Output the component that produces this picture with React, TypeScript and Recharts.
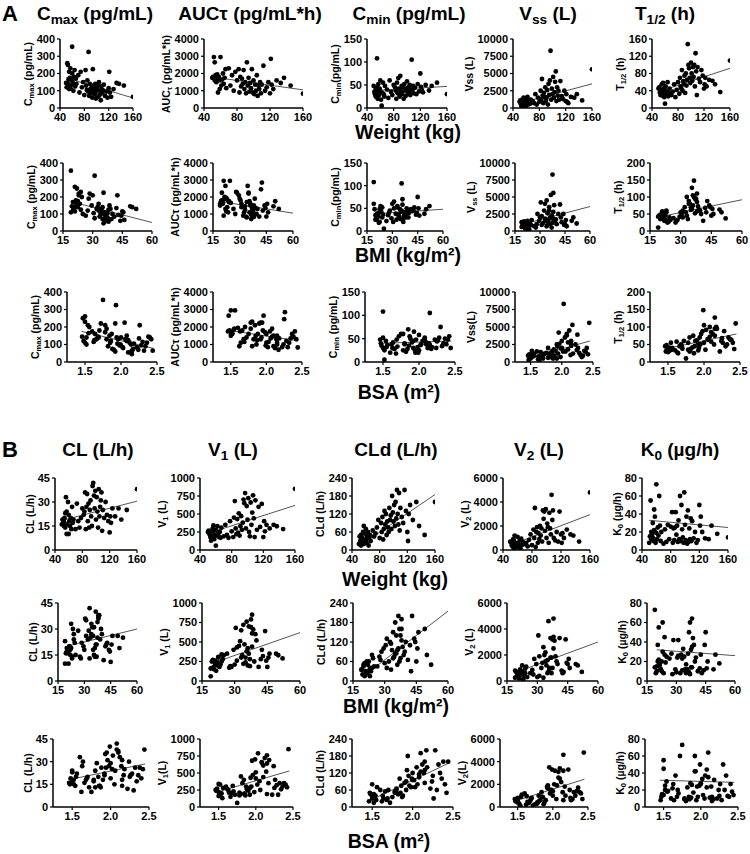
import React from 'react';
import { ScatterChart, Scatter, XAxis, YAxis, ReferenceLine } from 'recharts';

// covariates, one value per patient
const weightKg = [50, 51, 52, 53, 53, 54, 55, 55, 56, 57, 57, 58, 59, 60, 60, 61, 62, 63, 64, 65, 66, 67,
  70, 72, 74, 76, 78, 80, 82, 83, 84, 85, 86, 87, 88, 89, 90, 91, 92, 93, 94, 95, 96, 97, 98, 99, 100,
  101, 102, 103, 104, 105, 106, 107, 108, 109, 110, 112, 114, 116, 118, 120, 121, 122, 124,
  128, 133, 137, 145, 160];
const bmi = [19.5, 20, 21, 20.5, 22, 21.5, 19, 23, 22.5, 21, 24, 20.5, 23.5, 19, 24.5, 22, 25, 21.5, 23, 24, 20, 22.5,
  28, 26.5, 30, 27.5, 29.5, 31, 28.5, 32, 30.5, 33, 34, 31, 35, 32.5, 36, 33.5, 34.5, 37, 35.5, 36.5, 33, 37.5, 35, 38, 36,
  34, 39, 37, 38.5, 36.5, 40, 35.5, 38, 41, 37.5, 42, 39.5, 43, 44, 45, 42.5, 44.5, 46,
  45.5, 49, 50, 52, 38];
const bsa = [1.46, 1.48, 1.5, 1.52, 1.47, 1.55, 1.5, 1.54, 1.6, 1.62, 1.5, 1.66, 1.64, 1.75, 1.56, 1.68, 1.52, 1.7, 1.72, 1.63, 1.78, 1.69,
  1.8, 1.82, 1.78, 1.86, 1.84, 1.88, 1.92, 1.8, 1.95, 1.87, 1.98, 1.93, 1.9, 2.0, 1.85, 2.02, 1.96, 1.92, 2.05, 1.99, 2.08, 2.03, 1.94, 2.1, 2.0,
  2.12, 2.06, 2.15, 2.08, 2.17, 2.14, 2.15, 2.1, 2.22, 2.18, 2.25, 2.24, 2.28, 2.15, 2.3, 2.26, 2.34, 2.32,
  2.36, 2.38, 2.4, 2.42, 2.44];

// PK parameters (A)
const cmax = [145, 120, 260, 140, 250, 165, 110, 210, 175, 115, 230, 130, 160, 355, 200, 145, 100, 180, 220, 125, 170, 140,
  190, 90, 210, 120, 150, 75, 220, 130, 105, 160, 95, 325, 70, 140, 110, 85, 130, 60, 225, 100, 120, 80, 140, 55, 95,
  110, 130, 65, 150, 75, 100, 45, 125, 85, 105, 135, 70, 95, 60, 115, 210, 90, 65,
  110, 145, 140, 130, 65];
const aucTau = [1750, 1800, 2950, 1600, 2650, 1900, 1500, 1850, 1950, 900, 1700, 1800, 1100, 1600, 2950, 1300, 1650, 2000, 1400, 1750, 2250, 1150,
  2300, 1300, 1900, 1000, 2100, 1600, 2250, 900, 1800, 1250, 1700, 1400, 2200, 1100, 1500, 850, 2650, 1300, 1750, 950, 1450, 1150, 2250, 900, 1600,
  800, 1350, 1000, 1900, 700, 1300, 1100, 1500, 850, 1350, 2450, 1000, 1200, 1500, 850, 2850, 1350, 1100,
  1600, 1450, 1750, 1300, 830];
const cmin = [48, 35, 30, 25, 40, 32, 108, 45, 20, 38, 52, 28, 42, 60, 36, 18, 5, 33, 55, 30, 25, 48,
  40, 22, 60, 35, 28, 50, 45, 38, 20, 55, 32, 65, 42, 25, 70, 36, 48, 30, 45, 20, 52, 38, 26, 42, 58,
  30, 45, 35, 50, 28, 40, 105, 38, 48, 32, 44, 30, 52, 36, 75, 46, 40, 34,
  50, 38, 48, 55, 30];
const vss = [900, 1100, 500, 700, 300, 1200, 600, 800, 1500, 400, 1000, 1400, 250, 1300, 900, 700, 1600, 500, 1100, 800, 600, 1200,
  1000, 700, 2000, 500, 1500, 900, 2500, 1200, 4200, 1800, 700, 2200, 1600, 3000, 1000, 1500, 2600, 500, 3500, 1900, 4000, 8300, 1200, 2800, 2000,
  4500, 1500, 2300, 3800, 5300, 1000, 3000, 1800, 2500, 1200, 3900, 1700, 1300, 2500, 1000, 2000, 900, 700,
  1600, 1500, 2000, 1100, 5600];
const tHalf = [45, 48, 36, 40, 30, 35, 42, 55, 33, 58, 28, 45, 25, 10, 40, 50, 32, 38, 60, 27, 35, 45,
  30, 38, 55, 25, 42, 60, 33, 70, 50, 45, 88, 40, 62, 55, 75, 35, 80, 52, 65, 148, 100, 92, 70, 58, 105,
  80, 63, 95, 72, 100, 50, 127, 85, 30, 95, 68, 60, 88, 75, 45, 55, 70, 50,
  65, 63, 55, 37, 110];

// model parameters (B)
const cl = [16, 19, 17, 18, 15, 20, 23, 14, 33, 10, 24, 16, 30, 10, 22, 18, 15, 20, 13, 27, 17, 19,
  13, 29, 18, 14, 20, 26, 22, 24, 36, 13, 27, 35, 18, 29, 14, 25, 31, 21, 15, 40, 42, 34, 26, 37, 19,
  33, 24, 14, 38, 21, 27, 31, 36, 12, 25, 20, 30, 22, 18, 11, 21, 17, 26,
  21, 26, 19, 25, 38];
const v1 = [250, 270, 220, 180, 240, 130, 160, 200, 300, 260, 340, 150, 210, 60, 280, 200, 330, 230, 180, 250, 170, 310,
  190, 350, 210, 170, 400, 260, 180, 450, 680, 300, 220, 430, 240, 510, 200, 330, 470, 280, 380, 700, 650, 790, 300, 610, 420,
  720, 250, 190, 660, 350, 520, 760, 440, 180, 690, 280, 600, 320, 640, 180, 400, 260, 350,
  300, 350, 330, 290, 850];
const cld = [20, 45, 30, 15, 50, 25, 35, 40, 60, 20, 80, 55, 30, 35, 70, 25, 45, 60, 15, 40, 50, 30,
  65, 45, 55, 75, 100, 40, 90, 60, 110, 35, 70, 130, 85, 120, 50, 95, 75, 60, 140, 100, 115, 70, 180, 125, 95,
  150, 80, 160, 105, 200, 120, 85, 190, 65, 140, 110, 90, 200, 130, 60, 30, 120, 150,
  100, 160, 80, 50, 160];
const v2 = [700, 650, 400, 300, 500, 900, 800, 100, 1200, 200, 600, 350, 450, 250, 1100, 550, 300, 800, 150, 950, 400, 700,
  500, 600, 300, 850, 1300, 400, 1700, 1000, 3500, 250, 1500, 1900, 600, 1400, 900, 2000, 1200, 1800, 700, 3300, 2600, 3200, 1600, 3400, 1000,
  2200, 1900, 600, 3100, 1800, 1300, 4600, 2500, 3300, 1000, 800, 1500, 700, 3200, 1300, 600, 1400, 1000,
  1700, 1300, 1200, 700, 4800];
const k0 = [8, 15, 55, 20, 12, 18, 14, 30, 10, 22, 45, 37, 8, 73, 19, 12, 25, 16, 60, 27, 10, 20,
  7, 23, 9, 28, 12, 26, 42, 8, 24, 11, 25, 42, 17, 27, 9, 33, 12, 60, 10, 50, 23, 14, 8, 64, 28,
  11, 37, 7, 44, 9, 24, 12, 35, 10, 32, 13, 20, 8, 11, 50, 27, 37, 20,
  13, 12, 27, 18, 14];

// axis ticks
const weightTicks = [40, 80, 120, 160];
const bmiTicks = [15, 30, 45, 60];
const bsaTicks = [1.5, 2.0, 2.5];
const cmaxTicks = [0, 100, 200, 300, 400];
const aucTicks = [0, 1000, 2000, 3000, 4000];
const cminTicks = [0, 50, 100, 150];
const vssTicks = [0, 2500, 5000, 7500, 10000];
const tHalfTicksW = [0, 40, 80, 120, 160];
const tHalfTicks = [0, 50, 100, 150, 200];
const clTicks = [0, 15, 30, 45];
const v1Ticks = [0, 250, 500, 750, 1000];
const cldTicks = [0, 60, 120, 180, 240];
const v2Ticks = [0, 2000, 4000, 6000];
const k0Ticks = [0, 20, 40, 60, 80];

// linear regression lines: x span per covariate, y at both ends (weight, bmi, bsa)
const fitWeightX = [50, 160];
const fitBmiX = [20, 60];
const fitBsaX = [1.45, 2.45];
const fitCmax = [[175, 58], [170, 50], [175, 78]];
const fitAuc = [[1800, 1050], [1720, 1050], [1820, 1210]];
const fitCmin = [[38, 47], [38, 48], [40, 45]];
const fitVss = [[700, 3500], [1000, 3600], [500, 3000]];
const fitTHalf = [[38, 92], [42, 92], [37, 80]];
const fitCl = [[18.5, 30.5], [20, 30], [18, 28.5]];
const fitV1 = [[230, 620], [230, 620], [210, 530]];
const fitCld = [[12, 185], [15, 215], [20, 155]];
const fitV2 = [[400, 2950], [700, 3000], [500, 2450]];
const fitK0 = [[33, 25], [32, 26], [31.5, 29]];

const FONT = '"Liberation Sans", Arial, sans-serif';

// odd entries are subscripts
const Rich = ({ parts }: { parts: string[] }) => (
  <>
    {parts.map((p, i) =>
      i % 2 === 1 ? (
        <span key={i} style={{ fontSize: '72%', position: 'relative', top: '0.32em' }}>{p}</span>
      ) : (
        <span key={i}>{p}</span>
      )
    )}
  </>
);

const dot = (p: any) => <circle cx={p.cx} cy={p.cy} r={2.4} fill="#000" />;

const covariates = [
  { xs: weightKg, domain: [40, 160], ticks: weightTicks, fitX: fitWeightX, fmt: (v: number) => String(v) },
  { xs: bmi, domain: [15, 60], ticks: bmiTicks, fitX: fitBmiX, fmt: (v: number) => String(v) },
  { xs: bsa, domain: [1.25, 2.5], ticks: bsaTicks, fitX: fitBsaX, fmt: (v: number) => v.toFixed(1) },
];

const paramsA = [
  { ys: cmax, ticks: [cmaxTicks, cmaxTicks, cmaxTicks], fit: fitCmax,
    labels: [['C', 'max', ' (pg/mL)'], ['C', 'max', ' (pg/mL)'], ['C', 'max', ' (pg/mL)']] },
  { ys: aucTau, ticks: [aucTicks, aucTicks, aucTicks], fit: fitAuc,
    labels: [['AUC', 'τ', ' (pg/mL*h)'], ['AUCτ (pg/mL*h)'], ['AUCτ (pg/mL*h)']] },
  { ys: cmin, ticks: [cminTicks, cminTicks, cminTicks], fit: fitCmin,
    labels: [['C', 'min', '(pg/mL)'], ['C', 'min', '(pg/mL)'], ['C', 'min', ' (pg/mL)']] },
  { ys: vss, ticks: [vssTicks, vssTicks, vssTicks], fit: fitVss,
    labels: [['Vss (L)'], ['V', 'ss', ' (L)'], ['Vss(L)']] },
  { ys: tHalf, ticks: [tHalfTicksW, tHalfTicks, tHalfTicks], fit: fitTHalf,
    labels: [['T', '1/2', ' (h)'], ['T', '1/2', ' (h)'], ['T', '1/2', ' (h)']] },
];
const paramsB = [
  { ys: cl, ticks: [clTicks, clTicks, clTicks], fit: fitCl,
    labels: [['CL (L/h)'], ['CL (L/h)'], ['CL (L/h)']] },
  { ys: v1, ticks: [v1Ticks, v1Ticks, v1Ticks], fit: fitV1,
    labels: [['V', '1', ' (L)'], ['V', '1', ' (L)'], ['V', '1', '(L)']] },
  { ys: cld, ticks: [cldTicks, cldTicks, cldTicks], fit: fitCld,
    labels: [['CLd (L/h)'], ['CLd (L/h)'], ['CLd (L/h)']] },
  { ys: v2, ticks: [v2Ticks, v2Ticks, v2Ticks], fit: fitV2,
    labels: [['V', '2', ' (L)'], ['V', '2', ' (L)'], ['V', '2', '(L)']] },
  { ys: k0, ticks: [k0Ticks, k0Ticks, k0Ticks], fit: fitK0,
    labels: [['K', '0', ' (µg/h)'], ['K', '0', ' (µg/h)'], ['K', '0', ' (µg/h)']] },
];

const titlesA = [['C', 'max', ' (pg/mL)'], ['AUCτ (pg/mL*h)'], ['C', 'min', ' (pg/mL)'], ['V', 'ss', ' (L)'], ['T', '1/2', ' (h)']];
const titlesB = [['CL (L/h)'], ['V', '1', ' (L)'], ['CLd (L/h)'], ['V', '2', ' (L)'], ['K', '0', ' (µg/h)']];
const captions = ['Weight (kg)', 'BMI (kg/m²)', 'BSA (m²)'];

// layout: plot rectangles per row [left,right] and [top,bottom]
const layoutA = {
  rows: [[39, 108], [163, 231], [292, 362]],
  cols: [
    [[60, 133], [204, 303], [367, 447], [513, 592], [652, 730]],
    [[63, 152], [213, 293], [367, 443], [515, 590], [650, 742]],
    [[67, 157], [213, 302], [365, 455], [515, 593], [650, 740]],
  ],
  titleY: 13, titleX: [95, 250, 409, 548, 665],
  caption: [[408, 133], [408, 256], [399, 393]],
};
const layoutB = {
  rows: [[478, 550], [603, 681], [739, 807]],
  cols: [
    [[55, 137], [200, 295], [352, 435], [503, 590], [642, 728]],
    [[58, 137], [202, 300], [353, 448], [507, 598], [647, 735]],
    [[53, 149], [200, 293], [352, 453], [500, 588], [645, 738]],
  ],
  titleY: 449, titleX: [98, 233, 396, 539, 680],
  caption: [[395, 580], [396, 707], [389, 842]],
};

const tickStyle = { fill: '#000', fontSize: 11, fontWeight: 700, fontFamily: FONT };

function Plot({ x0, x1, top, bottom, cov, ys, yTicks, fitY, label }: any) {
  const axisW = 40;
  const mT = 7;
  const mR = 14;
  const xH = 22;
  const w = x1 - x0;
  const h = bottom - top;
  const data = cov.xs.map((x: number, i: number) => ({ x, y: ys[i] }));
  const yMax = yTicks[yTicks.length - 1];
  const labelX = x0 - String(yMax).length * 6.2 - 13;
  return (
    <>
      <div style={{ position: 'absolute', left: x0 - axisW, top: top - mT }}>
        <ScatterChart width={axisW + w + mR} height={mT + h + xH} margin={{ top: mT, right: mR, bottom: 0, left: 0 }}>
          <XAxis
            type="number"
            dataKey="x"
            domain={cov.domain}
            ticks={cov.ticks}
            interval={0}
            tickFormatter={cov.fmt}
            height={xH}
            tickSize={3}
            allowDataOverflow
            axisLine={{ stroke: '#000', strokeWidth: 1.5 }}
            tickLine={{ stroke: '#000', strokeWidth: 1.2 }}
            tick={tickStyle}
          />
          <YAxis
            type="number"
            dataKey="y"
            domain={[0, yMax]}
            ticks={yTicks}
            interval={0}
            width={axisW}
            tickSize={3}
            allowDataOverflow
            axisLine={{ stroke: '#000', strokeWidth: 1.5 }}
            tickLine={{ stroke: '#000', strokeWidth: 1.2 }}
            tick={tickStyle}
          />
          <ReferenceLine
            segment={[{ x: cov.fitX[0], y: fitY[0] }, { x: cov.fitX[1], y: fitY[1] }]}
            stroke="#555"
            strokeWidth={1}
          />
          <Scatter data={data} shape={dot} isAnimationActive={false} />
        </ScatterChart>
      </div>
      <div
        style={{
          position: 'absolute',
          left: labelX,
          top: (top + bottom) / 2,
          transform: 'translate(-50%, -50%) rotate(-90deg)',
          whiteSpace: 'nowrap',
          fontSize: 10.5,
          fontWeight: 700,
          lineHeight: 1,
        }}
      >
        <Rich parts={label} />
      </div>
    </>
  );
}

function Panel({ letter, letterY, params, titles, layout }: any) {
  return (
    <>
      <div style={{ position: 'absolute', left: 2, top: letterY - 12, fontSize: 22, fontWeight: 700 }}>{letter}</div>
      {titles.map((t: string[], i: number) => (
        <div
          key={'t' + i}
          style={{
            position: 'absolute',
            left: layout.titleX[i],
            top: layout.titleY,
            transform: 'translate(-50%, -50%)',
            whiteSpace: 'nowrap',
            fontSize: 19,
            fontWeight: 700,
            lineHeight: 1,
          }}
        >
          <Rich parts={t} />
        </div>
      ))}
      {covariates.map((cov, r) => (
        <React.Fragment key={'r' + r}>
          {params.map((p: any, c: number) => (
            <Plot
              key={c}
              x0={layout.cols[r][c][0]}
              x1={layout.cols[r][c][1]}
              top={layout.rows[r][0]}
              bottom={layout.rows[r][1]}
              cov={cov}
              ys={p.ys}
              yTicks={p.ticks[r]}
              fitY={p.fit[r]}
              label={p.labels[r]}
            />
          ))}
          <div
            style={{
              position: 'absolute',
              left: layout.caption[r][0],
              top: layout.caption[r][1],
              transform: 'translate(-50%, -50%)',
              whiteSpace: 'nowrap',
              fontSize: 19.5,
              fontWeight: 700,
              lineHeight: 1,
            }}
          >
            {captions[r]}
          </div>
        </React.Fragment>
      ))}
    </>
  );
}

export default function App() {
  return (
    <div
      style={{
        position: 'absolute',
        left: 0,
        top: 0,
        width: 750,
        height: 854,
        background: '#fff',
        fontFamily: FONT,
        color: '#000',
        overflow: 'hidden',
      }}
    >
      <Panel letter="A" letterY={13} params={paramsA} titles={titlesA} layout={layoutA} />
      <Panel letter="B" letterY={449} params={paramsB} titles={titlesB} layout={layoutB} />
    </div>
  );
}
